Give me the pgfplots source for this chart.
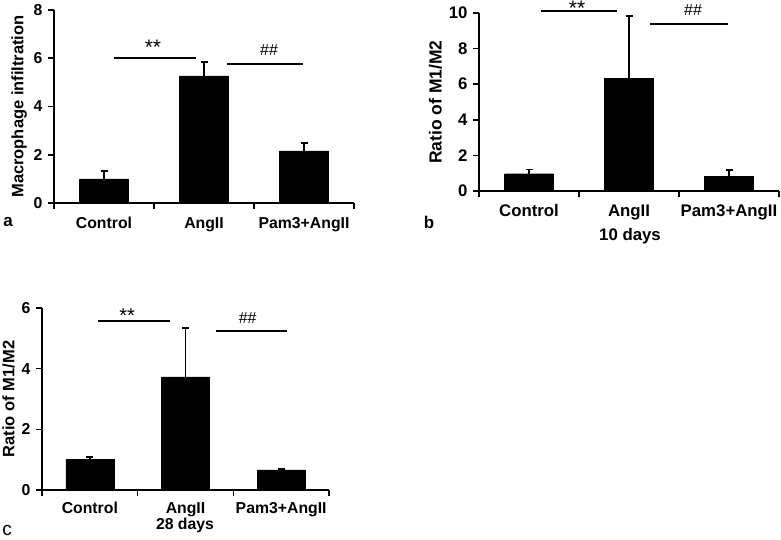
\documentclass[border=0pt]{standalone}
\usepackage{pgfplots}
\pgfplotsset{compat=1.18}
\usepackage{fontspec}
\setmainfont{Liberation Sans}
\tikzset{sigline/.style={line width=1.8pt}}
\begin{document}
\begin{tikzpicture}
\useasboundingbox (0pt,0pt) rectangle (781pt,539pt);
\pgfplotsset{
  panel/.style={
    scale only axis, anchor=south west, clip=false,
    axis x line*=bottom, axis y line*=left,
    xmin=-0.5, xmax=2.5, ymin=0,
    xtick={0,1,2}, xticklabels={Control, AngII, Pam3+AngII},
    major x tick style={draw=none},
    minor xtick={-0.5,0.5,1.5,2.5},
    tick align=outside,
    major tick length=6pt, minor tick length=6pt,
    axis line style={line width=1.6pt, -},
    every tick/.style={line width=1.6pt, black},
    /pgf/number format/assume math mode=true,
    yticklabel style={xshift=-2pt},
    ylabel style={font=\bfseries},
  },
  bars/.style={ybar, fill=black, draw=black,
    error bars/.cd, y dir=plus, y explicit,
    error bar style={line width=1.8pt},
    error mark options={rotate=90, mark size=3.5pt, line width=1.8pt},
    /pgfplots/.cd},
}
% Panel a
\begin{axis}[panel, at={(54pt,336pt)}, width=300pt, height=193pt, ymax=8, ytick={0,2,4,6,8},
  ticklabel style={font=\fontsize{15.8}{19}\selectfont\bfseries},
  xticklabel style={anchor=base, yshift=-19pt},
  ylabel={\fontsize{16.5}{19}\selectfont Macrophage infiltration}]
\addplot[bar width=49pt, bars] coordinates {(0,1.00) +- (0,0.33) (1,5.27) +- (0,0.58) (2,2.16) +- (0,0.33)};
\draw[sigline] (axis cs:0.10,6.02) -- (axis cs:0.92,6.02);
\draw[sigline] (axis cs:1.23,5.77) -- (axis cs:1.99,5.77);
\node[font=\fontsize{21}{24}\selectfont] at (axis cs:0.49,6.45) {**};
\node[font=\fontsize{16}{19}\selectfont] at (axis cs:1.65,6.35) {\#\#};
\end{axis}
% Panel b
\begin{axis}[panel, at={(479pt,348pt)}, width=300pt, height=178pt, ymax=10, ytick={0,2,4,6,8,10},
  ticklabel style={font=\fontsize{16.8}{20}\selectfont\bfseries},
  xticklabel style={anchor=base, yshift=-19pt},
  ylabel={\fontsize{17.5}{20}\selectfont Ratio of M1/M2}]
\addplot[bar width=49pt, bars] coordinates {(0,0.97) +- (0,0.24) (1,6.33) +- (0,3.52) (2,0.84) +- (0,0.33)};
\draw[sigline] (axis cs:0.12,10.1) -- (axis cs:0.88,10.1);
\draw[sigline] (axis cs:1.21,9.4) -- (axis cs:1.99,9.4);
\node[font=\fontsize{21}{24}\selectfont] at (axis cs:0.48,10.27) {**};
\node[font=\fontsize{16}{19}\selectfont] at (axis cs:1.64,10.15) {\#\#};
\end{axis}
% Panel c
\begin{axis}[panel, at={(42pt,49pt)}, width=287pt, height=182pt, ymax=6, ytick={0,2,4,6},
  ticklabel style={font=\fontsize{15.8}{19}\selectfont\bfseries},
  xticklabel style={anchor=base, yshift=-17pt},
  ylabel={\fontsize{16.5}{19}\selectfont Ratio of M1/M2}]
\addplot[bar width=48pt, bars] coordinates {(0,1.00) +- (0,0.08) (1,3.73) +- (0,1.62) (2,0.66) +- (0,0.03)};
\draw[sigline] (axis cs:0.085,5.58) -- (axis cs:0.84,5.58);
\draw[sigline] (axis cs:1.32,5.25) -- (axis cs:2.06,5.25);
\node[font=\fontsize{20}{23}\selectfont] at (axis cs:0.39,5.75) {**};
\node[font=\fontsize{16}{19}\selectfont] at (axis cs:1.65,5.68) {\#\#};
\end{axis}
% panel letters and sublabels
\node[font=\fontsize{17}{20}\selectfont\bfseries] at (8pt,317pt) {a};
\node[font=\fontsize{17}{20}\selectfont\bfseries] at (429pt,317pt) {b};
\node[font=\fontsize{19}{22}\selectfont] at (7pt,9pt) {c};
\node[anchor=base, font=\fontsize{16.8}{20}\selectfont\bfseries] at (630pt,299pt) {10 days};
\node[anchor=base, font=\fontsize{15.8}{19}\selectfont\bfseries] at (185pt,10pt) {28 days};
\end{tikzpicture}
\end{document}
